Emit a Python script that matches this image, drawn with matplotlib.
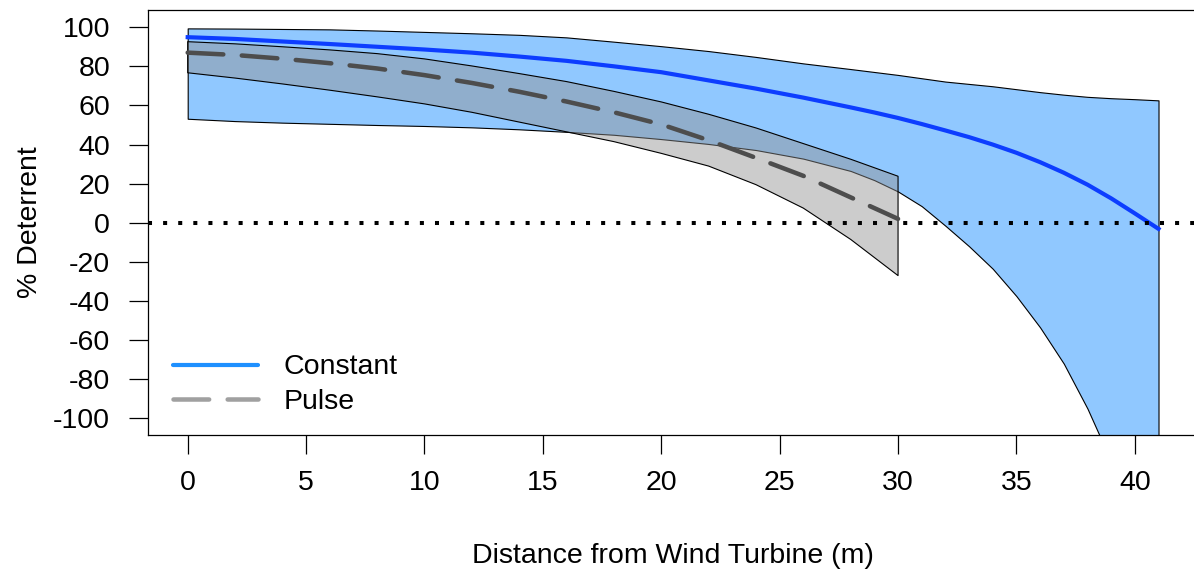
import matplotlib.pyplot as plt
from matplotlib.lines import Line2D

plt.rcParams["font.family"] = ["Liberation Sans", "DejaVu Sans"]
plt.rcParams["axes.unicode_minus"] = False

# Data
dist_const = [0, 2, 4, 6, 8, 10, 12, 14, 16, 18, 20, 22, 24, 26, 28,
              29, 30, 31, 32, 33, 34, 35, 36, 37, 38, 39, 40, 41]
const_mean = [94.9, 94.0, 92.7, 91.4, 90.0, 88.6, 87.0, 85.0, 82.8, 80.0, 77.0,
              72.8, 68.6, 64.0, 59.0, 56.4, 53.6, 50.5, 47.2, 43.8, 40.0, 35.8,
              31.0, 25.6, 19.5, 12.5, 4.8, -3.1]
const_upper = [99.4, 99.3, 99.1, 98.9, 98.3, 97.6, 96.9, 96.1, 94.8, 92.6, 90.3,
               87.8, 84.8, 81.5, 78.6, 77.1, 75.6, 73.9, 72.2, 71.0, 69.8, 68.3,
               66.8, 65.5, 64.4, 63.7, 63.2, 62.6]
const_lower = [53.2, 52.0, 51.2, 50.6, 50.0, 49.5, 48.8, 47.8, 46.5, 45.0, 42.8,
               40.3, 37.2, 32.8, 26.5, 21.8, 16.0, 8.5, -1.5, -12.0, -23.5, -37.5,
               -53.5, -72.0, -95.0, -122.0, -152.0, -185.0]

dist_pulse = [0, 2, 4, 6, 8, 10, 12, 14, 16, 18, 20, 22, 24, 26, 28, 30]
pulse_mean = [87.0, 85.8, 83.9, 81.6, 78.9, 75.5, 71.5, 67.0, 62.0, 56.5, 50.3,
              42.2, 33.2, 24.0, 13.0, 2.0]
pulse_upper = [92.6, 91.5, 90.0, 88.4, 86.5, 83.8, 80.2, 76.3, 72.2, 67.2, 61.8,
               55.5, 48.5, 40.5, 32.5, 23.8]
pulse_lower = [76.7, 74.0, 71.0, 67.8, 64.4, 60.8, 56.5, 51.5, 46.5, 41.5, 35.5,
               29.0, 19.5, 7.5, -8.5, -27.0]

x_ticks = [0, 5, 10, 15, 20, 25, 30, 35, 40]
y_ticks = [-100, -80, -60, -40, -20, 0, 20, 40, 60, 80, 100]

fig = plt.figure(figsize=(11.94, 5.78), dpi=100)
ax = fig.add_axes([0.1242, 0.2474, 0.8786, 0.7353])

# bands
ax.fill_between(dist_const, const_lower, const_upper, facecolor="#90C8FF",
                edgecolor="black", linewidth=0.8, zorder=1)
ax.fill_between(dist_pulse, pulse_lower, pulse_upper, facecolor="#909090",
                alpha=0.46, edgecolor="none", zorder=2)
ax.fill_between(dist_pulse, pulse_lower, pulse_upper, facecolor="none",
                edgecolor="black", linewidth=0.8, zorder=2)

# mean lines
ax.plot(dist_const, const_mean, color="#0D3DFF", linewidth=3.0, zorder=3)
ax.plot(dist_pulse, pulse_mean, color="#4D4D4D", linewidth=3.25,
        linestyle=(0, (7.9, 4.1)), dash_capstyle="round", zorder=3)

ax.axhline(0, color="black", linewidth=2.9, linestyle=(0, (1.0, 2.75)), zorder=4)

ax.set_xlim(-1.664, 42.64)
ax.set_ylim(-108.5, 108.8)
ax.set_xticks(x_ticks)
ax.set_yticks(y_ticks)
ax.tick_params(axis="both", labelsize=20.5, length=13.5, width=0.9, color="black")
ax.tick_params(axis="x", pad=12)
ax.tick_params(axis="y", pad=14)
for s in ax.spines.values():
    s.set_linewidth(0.9)

ax.set_xlabel("Distance from Wind Turbine (m)", fontsize=20.5)
ax.set_ylabel("% Deterrent", fontsize=20.5)
ax.xaxis.set_label_coords(0.5, -0.255)
ax.yaxis.set_label_coords(-0.1, 0.5)

handles = [
    Line2D([], [], color="#1E90FF", linewidth=3.0, solid_capstyle="round"),
    Line2D([], [], color="#A0A0A0", linewidth=3.25, linestyle=(0, (7.9, 4.1)),
           dash_capstyle="round"),
]
ax.legend(handles, ["Constant", "Pulse"], loc="lower left",
          bbox_to_anchor=(0.0235, 0.047), frameon=False, fontsize=20.5,
          handlelength=3.0, handletextpad=0.9, labelspacing=0.3,
          borderpad=0, borderaxespad=0)

plt.savefig("out.png", dpi=100)
